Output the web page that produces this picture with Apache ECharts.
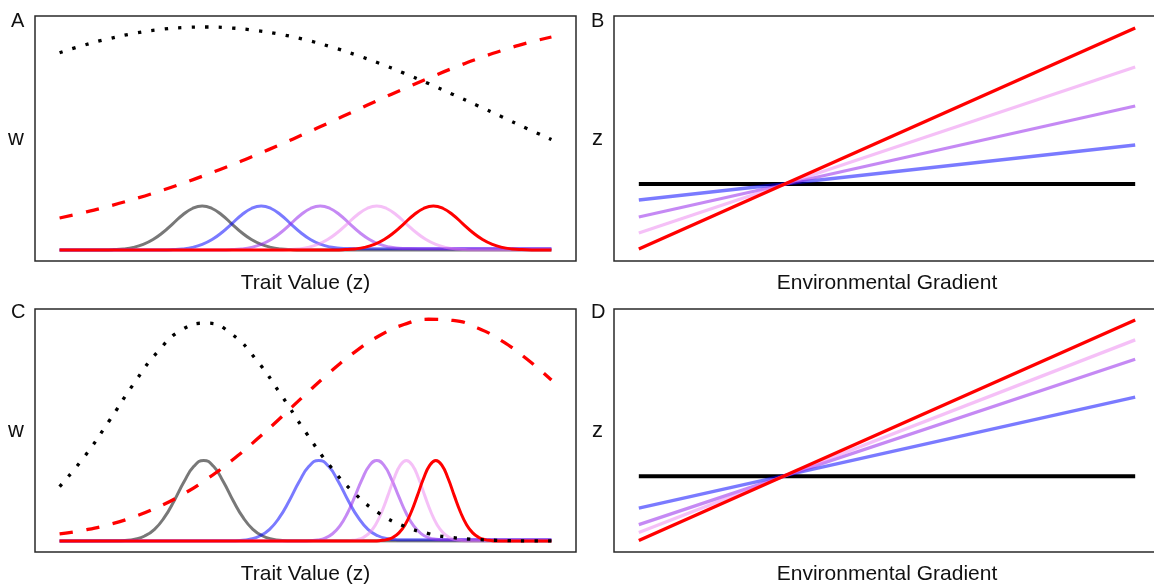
<!DOCTYPE html>
<html>
<head>
<meta charset="utf-8">
<script src="https://cdn.jsdelivr.net/npm/echarts@6/dist/echarts.min.js"></script>
<style>
html,body{margin:0;padding:0;background:#fff;overflow:hidden;width:1154px;height:586px;}
#chart{width:1172px;height:586px;}
</style>
</head>
<body>
<div id="chart"></div>
<script>
// ---------- DATA ----------
const panelLetters = ['A', 'B', 'C', 'D'];
const traitTitle = 'Trait Value (z)';
const envTitle = 'Environmental Gradient';
const fitnessLabel = 'w';
const traitLabel = 'z';

// trait axis samples for the broad curves
const traitGrid = [0,0.5,1,1.5,2,2.5,3,3.5,4,4.5,5,5.5,6,6.5,7,7.5,8,8.5,9,9.5,10];

// Panel A
const A_dotted = [1.972,2.049,2.113,2.165,2.202,2.224,2.230,2.220,2.195,2.156,2.102,2.034,1.955,1.867,1.769,1.665,1.555,1.443,1.330,1.216,1.105];
const A_dashed = [0.320,0.376,0.438,0.507,0.583,0.666,0.756,0.851,0.952,1.057,1.166,1.278,1.391,1.503,1.612,1.718,1.819,1.912,1.996,2.069,2.130];
const A_gray = [[0,0],[0.9,0.001],[1.1,0.004],[1.3,0.011],[1.5,0.026],[1.7,0.056],[1.9,0.105],[2.1,0.175],[2.3,0.262],[2.5,0.350],[2.7,0.415],[2.9,0.440],[3.1,0.415],[3.3,0.350],[3.5,0.262],[3.7,0.175],[3.9,0.105],[4.1,0.056],[4.3,0.026],[4.5,0.011],[4.7,0.004],[4.9,0.001],[10,0]];
const A_blue = [[0,0],[2.1,0.001],[2.3,0.004],[2.5,0.011],[2.7,0.026],[2.9,0.056],[3.1,0.105],[3.3,0.175],[3.5,0.262],[3.7,0.350],[3.9,0.415],[4.1,0.440],[4.3,0.415],[4.5,0.350],[4.7,0.262],[4.9,0.175],[5.1,0.105],[5.3,0.058],[5.5,0.030],[5.7,0.018],[5.9,0.014],[6.3,0.012],[10,0.012]];
const A_purple = [[0,0],[3.3,0.001],[3.5,0.004],[3.7,0.011],[3.9,0.026],[4.1,0.056],[4.3,0.105],[4.5,0.175],[4.7,0.262],[4.9,0.350],[5.1,0.415],[5.3,0.440],[5.5,0.415],[5.7,0.350],[5.9,0.262],[6.1,0.175],[6.3,0.105],[6.5,0.058],[6.7,0.030],[6.9,0.018],[7.1,0.014],[7.5,0.012],[10,0.012]];
const A_pink = [[0,0],[4.45,0.001],[4.65,0.004],[4.85,0.011],[5.05,0.026],[5.25,0.056],[5.45,0.105],[5.65,0.175],[5.85,0.262],[6.05,0.350],[6.25,0.415],[6.45,0.440],[6.65,0.415],[6.85,0.350],[7.05,0.262],[7.25,0.175],[7.45,0.105],[7.65,0.056],[7.85,0.026],[8.05,0.011],[8.25,0.004],[8.45,0.001],[10,0]];
const A_red = [[0,0],[5.6,0.001],[5.8,0.004],[6.0,0.011],[6.2,0.026],[6.4,0.056],[6.6,0.105],[6.8,0.175],[7.0,0.262],[7.2,0.350],[7.4,0.415],[7.6,0.440],[7.8,0.415],[8.0,0.350],[8.2,0.262],[8.4,0.175],[8.6,0.105],[8.8,0.056],[9.0,0.026],[9.2,0.011],[9.4,0.004],[9.6,0.001],[10,0]];

// Panel C
const C_dotted = [0.547,0.844,1.200,1.574,1.904,2.126,2.188,2.078,1.820,1.471,1.096,0.753,0.478,0.279,0.151,0.075,0.034,0.015,0.006,0.002,0.001];
const C_dashed = [0.071,0.110,0.165,0.241,0.341,0.468,0.624,0.808,1.016,1.241,1.473,1.696,1.897,2.061,2.174,2.227,2.215,2.140,2.007,1.828,1.617];
const C_gray = [[0,0],[1.13,0.002],[1.33,0.006],[1.53,0.019],[1.73,0.051],[1.93,0.118],[2.13,0.237],[2.33,0.405],[2.53,0.595],[2.73,0.750],[2.93,0.810],[3.13,0.750],[3.33,0.595],[3.53,0.405],[3.73,0.237],[3.93,0.118],[4.13,0.051],[4.33,0.019],[4.53,0.006],[4.73,0.002],[10,0]];
const C_blue = [[0,0],[3.47,0.002],[3.67,0.006],[3.87,0.019],[4.07,0.051],[4.27,0.118],[4.47,0.237],[4.67,0.405],[4.87,0.595],[5.07,0.750],[5.27,0.810],[5.47,0.750],[5.67,0.595],[5.87,0.405],[6.07,0.237],[6.27,0.118],[6.47,0.053],[6.67,0.024],[6.87,0.014],[7.07,0.012],[10,0.012]];
const C_purple = [[0,0],[4.95,0.001],[5.1,0.004],[5.25,0.011],[5.4,0.030],[5.55,0.073],[5.7,0.152],[5.85,0.277],[6.0,0.443],[6.15,0.620],[6.3,0.757],[6.45,0.810],[6.6,0.757],[6.75,0.620],[6.9,0.443],[7.05,0.277],[7.2,0.152],[7.35,0.075],[7.5,0.035],[7.65,0.018],[7.8,0.013],[8.0,0.012],[10,0.012]];
const C_pink = [[0,0],[5.8,0.001],[5.925,0.005],[6.05,0.014],[6.175,0.036],[6.3,0.082],[6.425,0.164],[6.55,0.292],[6.675,0.456],[6.8,0.628],[6.925,0.760],[7.05,0.810],[7.175,0.760],[7.3,0.628],[7.425,0.456],[7.55,0.292],[7.675,0.164],[7.8,0.082],[7.925,0.036],[8.05,0.014],[8.175,0.005],[8.3,0.001],[10,0]];
const C_red = [[0,0],[6.4,0.001],[6.525,0.005],[6.65,0.014],[6.775,0.036],[6.9,0.082],[7.025,0.164],[7.15,0.292],[7.275,0.456],[7.4,0.628],[7.525,0.760],[7.65,0.810],[7.775,0.760],[7.9,0.628],[8.025,0.456],[8.15,0.292],[8.275,0.164],[8.4,0.082],[8.525,0.036],[8.65,0.014],[8.775,0.005],[8.9,0.001],[10,0]];

// Panels B and D: reaction norms (value at the two ends of the gradient)
const envEnds = [0, 10];
const B_black = [0, 0];
const B_blue = [-0.32, 0.78];
const B_purple = [-0.66, 1.56];
const B_pink = [-0.98, 2.34];
const B_red = [-1.30, 3.12];
const D_black = [0, 0];
const D_blue = [-0.64, 1.59];
const D_purple = [-0.97, 2.35];
const D_pink = [-1.13, 2.74];
const D_red = [-1.29, 3.14];

// ---------- STYLE ----------
const FONT = "'Liberation Sans', Arial, Helvetica, sans-serif";
const COL = {
  gray: 'rgba(0,0,0,0.53)',
  blue: 'rgba(0,0,255,0.52)',
  purple: 'rgba(150,40,235,0.55)',
  pink: 'rgba(235,130,240,0.5)',
  red: '#ff0000',
  black: '#000000'
};

const grids = [
  {left: 35, top: 16, width: 541, height: 245},
  {left: 614, top: 16, width: 546, height: 245},
  {left: 35, top: 309, width: 541, height: 244},
  {left: 614, top: 309, width: 546, height: 244}
].map(g => Object.assign(g, {show: true, borderColor: '#2a2a2a', borderWidth: 1.5, backgroundColor: 'transparent', containLabel: false}));

const yRanges = [[-0.11, 2.34], [-1.54, 3.36], [-0.11, 2.33], [-1.52, 3.36]];
const xTitles = [traitTitle, envTitle, traitTitle, envTitle];
const yTitles = [fitnessLabel, traitLabel, fitnessLabel, traitLabel];

const hidden = {axisLine: {show: false}, axisTick: {show: false}, axisLabel: {show: false}, splitLine: {show: false}};
const xAxes = grids.map((g, i) => Object.assign({
  gridIndex: i, type: 'value', min: -0.5, max: 10.5,
  name: xTitles[i], nameLocation: 'middle', nameGap: 12,
  nameTextStyle: {fontSize: 21, color: '#111', fontFamily: FONT}
}, hidden));
const yAxes = grids.map((g, i) => Object.assign({
  gridIndex: i, type: 'value', min: yRanges[i][0], max: yRanges[i][1],
  name: yTitles[i], nameLocation: 'middle', nameGap: 11, nameRotate: 0,
  nameTextStyle: {fontSize: 22, color: '#111', fontFamily: FONT}
}, hidden));

function zip(xs, ys) { return xs.map((x, i) => [x, ys[i]]); }
function curve(idx, data, color, width, type, smooth) {
  return {
    type: 'line', xAxisIndex: idx, yAxisIndex: idx, data: data,
    showSymbol: false, symbol: 'none', smooth: smooth, silent: true,
    lineStyle: {color: color, width: width, type: type || 'solid', cap: 'butt'}
  };
}
const DOT = [3.3, 10.2];
const DASH = [13.5, 13.5];

const series = [];
// Panel A
[[A_gray, COL.gray], [A_blue, COL.blue], [A_purple, COL.purple], [A_pink, COL.pink], [A_red, COL.red]]
  .forEach(([d, c]) => series.push(curve(0, d, c, 3, 'solid', true)));
series.push(curve(0, zip(traitGrid, A_dotted), COL.black, 3.3, DOT, true));
series.push(curve(0, zip(traitGrid, A_dashed), COL.red, 3.3, DASH, true));
// Panel C
[[C_gray, COL.gray], [C_blue, COL.blue], [C_purple, COL.purple], [C_pink, COL.pink], [C_red, COL.red]]
  .forEach(([d, c]) => series.push(curve(2, d, c, 3, 'solid', true)));
series.push(curve(2, zip(traitGrid, C_dotted), COL.black, 3.3, DOT, true));
series.push(curve(2, zip(traitGrid, C_dashed), COL.red, 3.3, DASH, true));
// Panel B
series.push(curve(1, zip(envEnds, B_black), COL.black, 4, 'solid', false));
[[B_blue, COL.blue], [B_purple, COL.purple], [B_pink, COL.pink], [B_red, COL.red]]
  .forEach(([d, c]) => series.push(curve(1, zip(envEnds, d), c, 3.3, 'solid', false)));
// Panel D
series.push(curve(3, zip(envEnds, D_black), COL.black, 4, 'solid', false));
[[D_blue, COL.blue], [D_purple, COL.purple], [D_pink, COL.pink], [D_red, COL.red]]
  .forEach(([d, c]) => series.push(curve(3, zip(envEnds, d), c, 3.3, 'solid', false)));

const letterPos = [[18, 22], [598, 22], [18, 313], [598, 313]];
const graphic = panelLetters.map((t, i) => ({
  type: 'text', left: letterPos[i][0] - 7, top: letterPos[i][1] - 11, silent: true,
  style: {text: t, fontSize: 20, fontFamily: FONT, fill: '#111'}
}));

const chart = echarts.init(document.getElementById('chart'), null, {renderer: 'canvas'});
chart.setOption({
  animation: false,
  backgroundColor: '#ffffff',
  grid: grids,
  xAxis: xAxes,
  yAxis: yAxes,
  series: series,
  graphic: graphic
});
</script>
</body>
</html>
